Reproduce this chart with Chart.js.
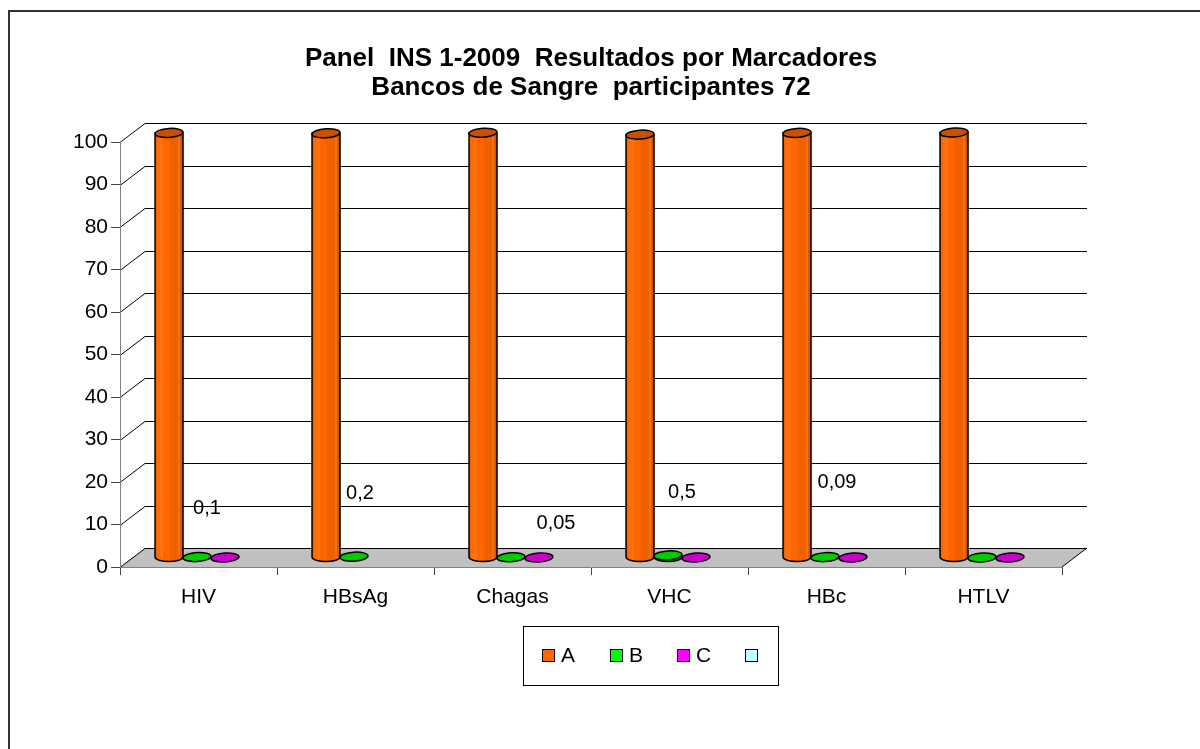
<!DOCTYPE html>
<html><head><meta charset="utf-8">
<script src="https://cdn.jsdelivr.net/npm/chart.js@4/dist/chart.umd.min.js"></script>
<style>html,body{margin:0;padding:0;background:#fff;overflow:hidden}canvas{display:block}</style>
</head><body>
<canvas id="c" width="1200" height="749"></canvas>
<script>
// ---- data ----
const categories = ['HIV', 'HBsAg', 'Chagas', 'VHC', 'HBc', 'HTLV'];
const seriesNames = ['A', 'B', 'C', ''];
const valuesA = [99.9, 99.8, 99.95, 99.5, 99.91, 100];
const valuesB = [0.1, 0.2, 0.05, 0.5, 0.09, 0];
const valuesC = [0, null, 0, 0, 0, 0];
const valuesD = [null, null, null, null, null, null];
const yMin = 0, yMax = 100, yStep = 10;
const titleLines = ['Panel  INS 1-2009  Resultados por Marcadores', 'Bancos de Sangre  participantes 72'];

// ---- style ----
const FONT = "'Liberation Sans', Arial, Helvetica, sans-serif";
const legendColors = ['#FF6600', '#00FF00', '#FF00FF', '#CCFFFF'];
const DX = 25, DY = -19;
const bodyStops = [
  [[0, '#E05800'], [0.08, '#FF6A00'], [0.26, '#FF7418'], [0.3, '#FF6600'], [0.5, '#FF6600'], [0.55, '#EE6000'], [0.82, '#EE6000'], [0.86, '#F78030'], [0.9, '#E05A00'], [1, '#D05200']],
  [[0, '#00B000'], [0.5, '#00D000'], [1, '#009000']],
  [[0, '#A000A0'], [0.5, '#CC00CC'], [1, '#800080']],
  [[0, '#AADDDD'], [1, '#88BBBB']]
];
const topColors = ['#C85000', '#00CC00', '#CC00CC', '#BBEEEE'];
const labelOffsets = [[10, -49], [6, -63], [45, -34], [14, -63], [12, -75], [0, 0]];

function cylinder(ctx, el, stops, topColor) {
  const w = el.width, x = el.x, l = x - w / 2, r = x + w / 2;
  const ty = el.y, by = el.base, rx = w / 2, ry = 4.5;
  ctx.lineWidth = 1.5;
  ctx.strokeStyle = '#000';
  if (by - ty > 0.6) {
    const g = ctx.createLinearGradient(l, 0, r, 0);
    stops.forEach(s => g.addColorStop(s[0], s[1]));
    ctx.beginPath();
    ctx.moveTo(l, ty);
    ctx.lineTo(l, by);
    ctx.ellipse(x, by, rx, ry, 0, Math.PI, 0, true);
    ctx.lineTo(r, ty);
    ctx.closePath();
    ctx.fillStyle = g;
    ctx.fill();
    ctx.stroke();
  }
  ctx.beginPath();
  ctx.ellipse(x, ty, rx, ry, -0.06, 0, Math.PI * 2);
  ctx.fillStyle = topColor;
  ctx.fill();
  ctx.stroke();
}

const depthPlugin = {
  id: 'depth3d',
  beforeDraw(chart) {
    const ctx = chart.ctx, a = chart.chartArea, ys = chart.scales.y;
    ctx.save();
    ctx.fillStyle = '#fff';
    ctx.fillRect(0, 0, chart.width, chart.height);
    // outer frame
    ctx.strokeStyle = '#333';
    ctx.lineWidth = 2;
    ctx.strokeRect(9, 11, 1400, 1000);
    // floor
    ctx.fillStyle = '#C0C0C0';
    ctx.beginPath();
    ctx.moveTo(a.left, a.bottom);
    ctx.lineTo(a.right, a.bottom);
    ctx.lineTo(a.right + DX, a.bottom + DY);
    ctx.lineTo(a.left + DX, a.bottom + DY);
    ctx.closePath();
    ctx.fill();
    ctx.strokeStyle = '#000';
    ctx.lineWidth = 1;
    ctx.beginPath();
    ctx.moveTo(a.right, a.bottom);
    ctx.lineTo(a.right + DX, a.bottom + DY);
    ctx.stroke();
    // side wall + back wall grid lines
    ys.ticks.forEach(t => {
      const py = Math.round(ys.getPixelForValue(t.value)) + 0.5;
      ctx.beginPath();
      ctx.moveTo(a.left, py);
      ctx.lineTo(a.left + DX, py + DY);
      ctx.lineTo(a.right + DX, py + DY);
      ctx.stroke();
    });
    ctx.restore();
  },
  beforeDatasetsDraw(chart) {
    chart.ctx.save();
    chart.ctx.translate(DX / 2, DY / 2);
  },
  afterDatasetsDraw(chart) {
    const ctx = chart.ctx;
    chart.data.datasets.forEach((ds, di) => {
      const meta = chart.getDatasetMeta(di);
      meta.data.forEach((el, i) => {
        if (ds.data[i] === null || ds.data[i] === undefined) return;
        cylinder(ctx, el, bodyStops[di], topColors[di]);
      });
    });
    ctx.restore();
  },
  afterDraw(chart) {
    const ctx = chart.ctx;
    ctx.save();
    // data labels on series B
    const metaB = chart.getDatasetMeta(1);
    ctx.font = '20px ' + FONT;
    ctx.fillStyle = '#000';
    ctx.textAlign = 'center';
    ctx.textBaseline = 'middle';
    metaB.data.forEach((el, i) => {
      const v = valuesB[i];
      if (!v) return;
      const o = labelOffsets[i];
      ctx.fillText(String(v).replace('.', ','), el.x + DX / 2 + o[0], el.y + DY / 2 + o[1]);
    });
    // legend
    const bx = 523.5, by = 626.5, bw = 255, bh = 59;
    ctx.strokeStyle = '#000';
    ctx.lineWidth = 1;
    ctx.strokeRect(bx, by, bw, bh);
    ctx.font = '21px ' + FONT;
    ctx.textAlign = 'left';
    const itemX = [542, 610, 677, 745];
    chart.data.datasets.forEach((ds, di) => {
      const x = itemX[di], cy = 655;
      ctx.fillStyle = legendColors[di];
      ctx.fillRect(x + 0.5, cy - 6 + 0.5, 12, 12);
      ctx.strokeRect(x + 0.5, cy - 6 + 0.5, 12, 12);
      ctx.fillStyle = '#000';
      ctx.fillText(ds.label, x + 19, cy + 1);
    });
    ctx.restore();
  }
};

new Chart(document.getElementById('c'), {
  type: 'bar',
  data: {
    labels: categories,
    datasets: [
      { label: seriesNames[0], data: valuesA, backgroundColor: legendColors[0] },
      { label: seriesNames[1], data: valuesB, backgroundColor: legendColors[1] },
      { label: seriesNames[2], data: valuesC, backgroundColor: legendColors[2] },
      { label: seriesNames[3], data: valuesD, backgroundColor: legendColors[3] }
    ]
  },
  options: {
    responsive: false,
    animation: false,
    devicePixelRatio: 1,
    datasets: { bar: { categoryPercentage: 0.713, barPercentage: 1, borderWidth: 0 } },
    layout: { padding: { left: 0, right: 138, top: 0, bottom: 132 } },
    plugins: {
      legend: { display: false },
      tooltip: { enabled: false },
      title: {
        display: true,
        fullSize: false,
        text: titleLines,
        color: '#000',
        font: { family: FONT, size: 26, weight: 'bold', lineHeight: 29 / 26 },
        padding: { top: 44, bottom: 40 }
      }
    },
    scales: {
      x: {
        offset: true,
        grid: { offset: true, drawOnChartArea: false, drawTicks: true, tickLength: 8, color: '#444' },
        border: { display: true, color: '#808080', width: 1 },
        ticks: { color: '#000', font: { family: FONT, size: 21 }, padding: 10, maxRotation: 0, autoSkip: false },
        afterFit: s => { s.height = 50; }
      },
      y: {
        min: yMin, max: yMax,
        grid: { drawOnChartArea: false, drawTicks: true, tickLength: 9, color: '#444' },
        border: { display: true, color: '#808080', width: 1 },
        ticks: { stepSize: yStep, color: '#000', font: { family: FONT, size: 21 }, padding: 3 },
        afterFit: s => { s.width = 120; }
      }
    }
  },
  plugins: [depthPlugin]
});
</script>
</body></html>
